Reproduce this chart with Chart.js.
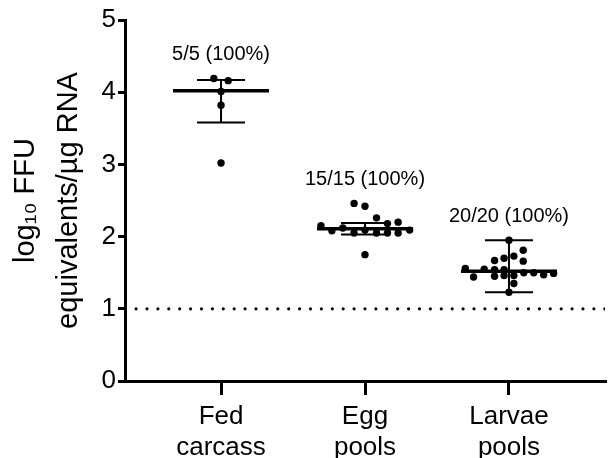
<!DOCTYPE html>
<html>
<head>
<meta charset="utf-8">
<script src="https://cdn.jsdelivr.net/npm/chart.js@4"></script>
<style>
  html, body { margin: 0; padding: 0; background: #fff; }
  #wrap { width: 609px; height: 458px; }
</style>
</head>
<body>
<div id="wrap"><canvas id="ffuChart"></canvas></div>
<script>
const categories = [['Fed', 'carcass'], ['Egg', 'pools'], ['Larvae', 'pools']];
const yTicks = [0, 1, 2, 3, 4, 5];

const fedCarcass = [4.19, 4.16, 4.01, 3.82, 3.02];
const fedJitter = [-0.05, 0.05, 0, 0, 0];

const eggPools = [2.46, 2.42, 2.26, 2.18, 2.20, 2.15, 2.08, 2.12, 2.05, 2.09, 2.05, 2.05, 2.05, 2.09, 1.75];
const eggJitter = [-0.076, 0, 0.08, 0.156, 0.23, -0.306, -0.23, -0.154, -0.076, 0, 0.08, 0.156, 0.23, 0.31, 0];

const larvaePools = [1.95, 1.81, 1.73, 1.70, 1.67, 1.66, 1.55, 1.54, 1.54, 1.44,
                     1.45, 1.46, 1.46, 1.50, 1.50, 1.47, 1.49, 1.35, 1.23, 1.56];
const larvaeJitter = [0, 0.099, 0.034, -0.034, -0.1, 0.099, -0.172, -0.1, -0.034, -0.246,
                      -0.1, -0.034, 0.034, 0.103, 0.172, 0.241, 0.31, 0.034, 0, -0.303];

const medians = [4.02, 2.11, 1.52];
const lowerBars = [3.58, 2.03, 1.23];
const upperBars = [4.17, 2.19, 1.95];
const detected = ['5/5 (100%)', '15/15 (100%)', '20/20 (100%)'];
const limitOfDetection = 1;

const FONT = "'Liberation Sans', Arial, sans-serif";

function toPoints(values, jitter, index) {
    return values.map((v, i) => ({ x: index + jitter[i], y: v }));
}

const groups = [
    toPoints(fedCarcass, fedJitter, 0),
    toPoints(eggPools, eggJitter, 1),
    toPoints(larvaePools, larvaeJitter, 2)
];

// median line + whiskers, drawn under the dots
const errorBarPlugin = {
    id: 'errorBars',
    beforeDatasetsDraw(chart) {
        const { ctx, scales: { x, y } } = chart;
        ctx.save();
        ctx.strokeStyle = '#000';
        medians.forEach((m, i) => {
            const cx = x.getPixelForValue(i);
            const yMed = y.getPixelForValue(m);
            const yLo = y.getPixelForValue(lowerBars[i]);
            const yHi = y.getPixelForValue(upperBars[i]);

            ctx.lineWidth = 2;
            ctx.beginPath();
            ctx.moveTo(cx, yHi);
            ctx.lineTo(cx, yLo);
            ctx.moveTo(cx - 24, yHi);
            ctx.lineTo(cx + 24, yHi);
            ctx.moveTo(cx - 24, yLo);
            ctx.lineTo(cx + 24, yLo);
            ctx.stroke();

            ctx.lineWidth = 3.5;
            ctx.beginPath();
            ctx.moveTo(cx - 48, yMed);
            ctx.lineTo(cx + 48, yMed);
            ctx.stroke();
        });
        ctx.restore();
    },
    afterDraw(chart) {
        const { ctx, scales: { x, y } } = chart;
        ctx.save();
        ctx.fillStyle = '#000';
        ctx.font = '20px ' + FONT;
        ctx.textAlign = 'center';
        ctx.textBaseline = 'middle';
        detected.forEach((label, i) => {
            const top = Math.max(...groups[i].map(p => p.y), upperBars[i]);
            ctx.fillText(label, x.getPixelForValue(i), y.getPixelForValue(top) - 24);
        });
        ctx.restore();
    }
};

const datasets = groups.map(pts => ({
    type: 'scatter',
    data: pts,
    pointRadius: 3.7,
    pointBackgroundColor: '#000',
    pointBorderWidth: 0
}));

datasets.push({
    type: 'line',
    data: [{ x: -0.59, y: limitOfDetection }, { x: 2.667, y: limitOfDetection }],
    borderColor: '#000',
    borderWidth: 3.2,
    borderDash: [0, 10.9],
    borderCapStyle: 'round',
    pointRadius: 0,
    fill: false
});

new Chart(document.getElementById('ffuChart'), {
    type: 'scatter',
    data: { datasets },
    options: {
        responsive: true,
        maintainAspectRatio: false,
        animation: false,
        layout: { padding: { top: 20, right: 0, left: 0, bottom: 0 } },
        plugins: {
            legend: { display: false },
            tooltip: { enabled: false }
        },
        scales: {
            x: {
                type: 'linear',
                min: -0.667,
                max: 2.667,
                afterBuildTicks: s => { s.ticks = categories.map((_, i) => ({ value: i })); },
                afterFit: s => { s.height = 77; },
                ticks: {
                    callback: v => categories[v],
                    color: '#000',
                    font: { family: FONT, size: 26 },
                    padding: 6,
                    maxRotation: 0
                },
                grid: { drawOnChartArea: false, drawTicks: true, tickLength: 14, lineWidth: 3, color: '#000' },
                border: { display: true, width: 3, color: '#000' }
            },
            y: {
                min: 0,
                max: 5,
                afterBuildTicks: s => { s.ticks = yTicks.map(v => ({ value: v })); },
                afterFit: s => { s.width = 125; },
                ticks: {
                    color: '#000',
                    font: { family: FONT, size: 26 },
                    padding: 2
                },
                grid: { drawOnChartArea: false, drawTicks: true, tickLength: 7, lineWidth: 3, color: '#000' },
                border: { display: true, width: 3, color: '#000' },
                title: {
                    display: true,
                    text: ['log\u2081\u2080 FFU', 'equivalents/\u00b5g RNA'],
                    color: '#000',
                    font: { family: FONT, size: 29, lineHeight: 1.5 },
                    padding: { top: 4, bottom: 0 }
                }
            }
        }
    },
    plugins: [errorBarPlugin]
});
</script>
</body>
</html>
